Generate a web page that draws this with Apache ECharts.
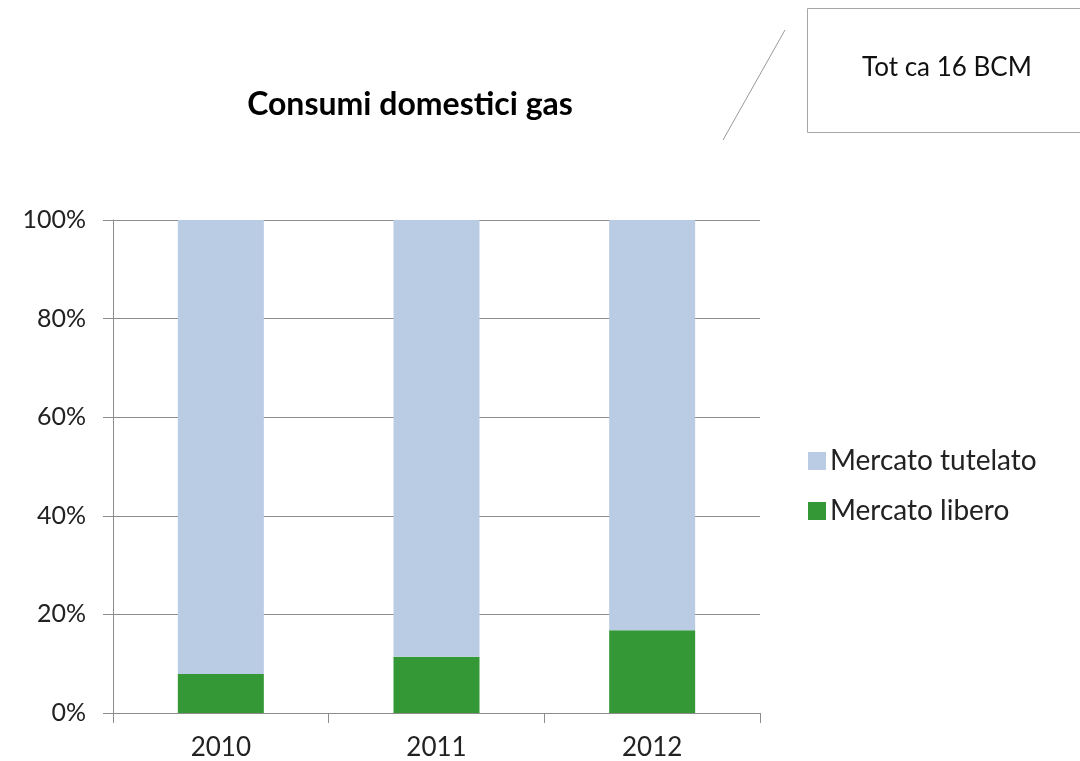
<!DOCTYPE html>
<html>
<head>
<meta charset="utf-8">
<title>Consumi domestici gas</title>
<script src="https://cdn.jsdelivr.net/npm/echarts@6/dist/echarts.min.js"></script>
<style>
  html, body { margin: 0; padding: 0; background: #fff; }
  #main { width: 1080px; height: 761px; }
</style>
</head>
<body>
<div id="main"></div>
<script>
// data
var years = ['2010', '2011', '2012'];
var liberoShare = [7.9, 11.4, 16.8];
var tutelatoShare = [92.1, 88.6, 83.2];
var yTicks = [0, 20, 40, 60, 80, 100];

var font = 'Lato';
var myChart = echarts.init(document.getElementById('main'));

var option = {
    backgroundColor: '#fff',
    animation: false,
    title: {
        text: 'Consumi domestici gas',
        left: 405,
        top: 84,
        textAlign: 'center',
        textStyle: { fontFamily: font, fontSize: 32, fontWeight: 'bold', color: '#000' }
    },
    legend: {
        orient: 'vertical',
        left: 808,
        top: 447,
        padding: 0,
        itemWidth: 18,
        itemHeight: 18,
        itemGap: 22,
        icon: 'rect',
        data: ['Mercato tutelato', 'Mercato libero'],
        textStyle: { fontFamily: font, fontSize: 28, color: '#222', padding: [0, 0, 0, -1] }
    },
    grid: { left: 113, right: 320, top: 220, bottom: 48 },
    xAxis: {
        type: 'category',
        data: years,
        axisLine: { lineStyle: { color: '#8c8c8c', width: 1 } },
        axisTick: { show: true, length: 10, lineStyle: { color: '#8c8c8c' } },
        axisLabel: { margin: 22, fontFamily: font, fontSize: 26, color: '#222' }
    },
    yAxis: {
        type: 'value',
        min: yTicks[0],
        max: yTicks[yTicks.length - 1],
        interval: yTicks[1] - yTicks[0],
        axisLine: { show: true, lineStyle: { color: '#8c8c8c', width: 1 } },
        axisTick: { show: true, length: 10, lineStyle: { color: '#8c8c8c' } },
        splitLine: { lineStyle: { color: '#8c8c8c', width: 1 } },
        axisLabel: { margin: 27, fontFamily: font, fontSize: 25, color: '#222',
                     formatter: function (v) { return v + '%'; } }
    },
    series: [
        {
            name: 'Mercato libero',
            type: 'bar',
            stack: 'tot',
            barWidth: 86,
            itemStyle: { color: '#359836' },
            data: liberoShare
        },
        {
            name: 'Mercato tutelato',
            type: 'bar',
            stack: 'tot',
            barWidth: 86,
            itemStyle: { color: '#b9cce4' },
            data: tutelatoShare
        }
    ],
    graphic: [
        {
            type: 'rect',
            shape: { x: 807.5, y: 8.5, width: 300, height: 124 },
            style: { fill: '#fff', stroke: '#a6a6a6', lineWidth: 1 }
        },
        {
            type: 'text',
            left: 862,
            top: 55,
            style: { text: 'Tot ca 16 BCM', fontFamily: font, fontSize: 26, fill: '#111' }
        },
        {
            type: 'line',
            shape: { x1: 785, y1: 30, x2: 723, y2: 140 },
            style: { stroke: '#999', lineWidth: 1 }
        }
    ]
};

myChart.setOption(option);
</script>
</body>
</html>
